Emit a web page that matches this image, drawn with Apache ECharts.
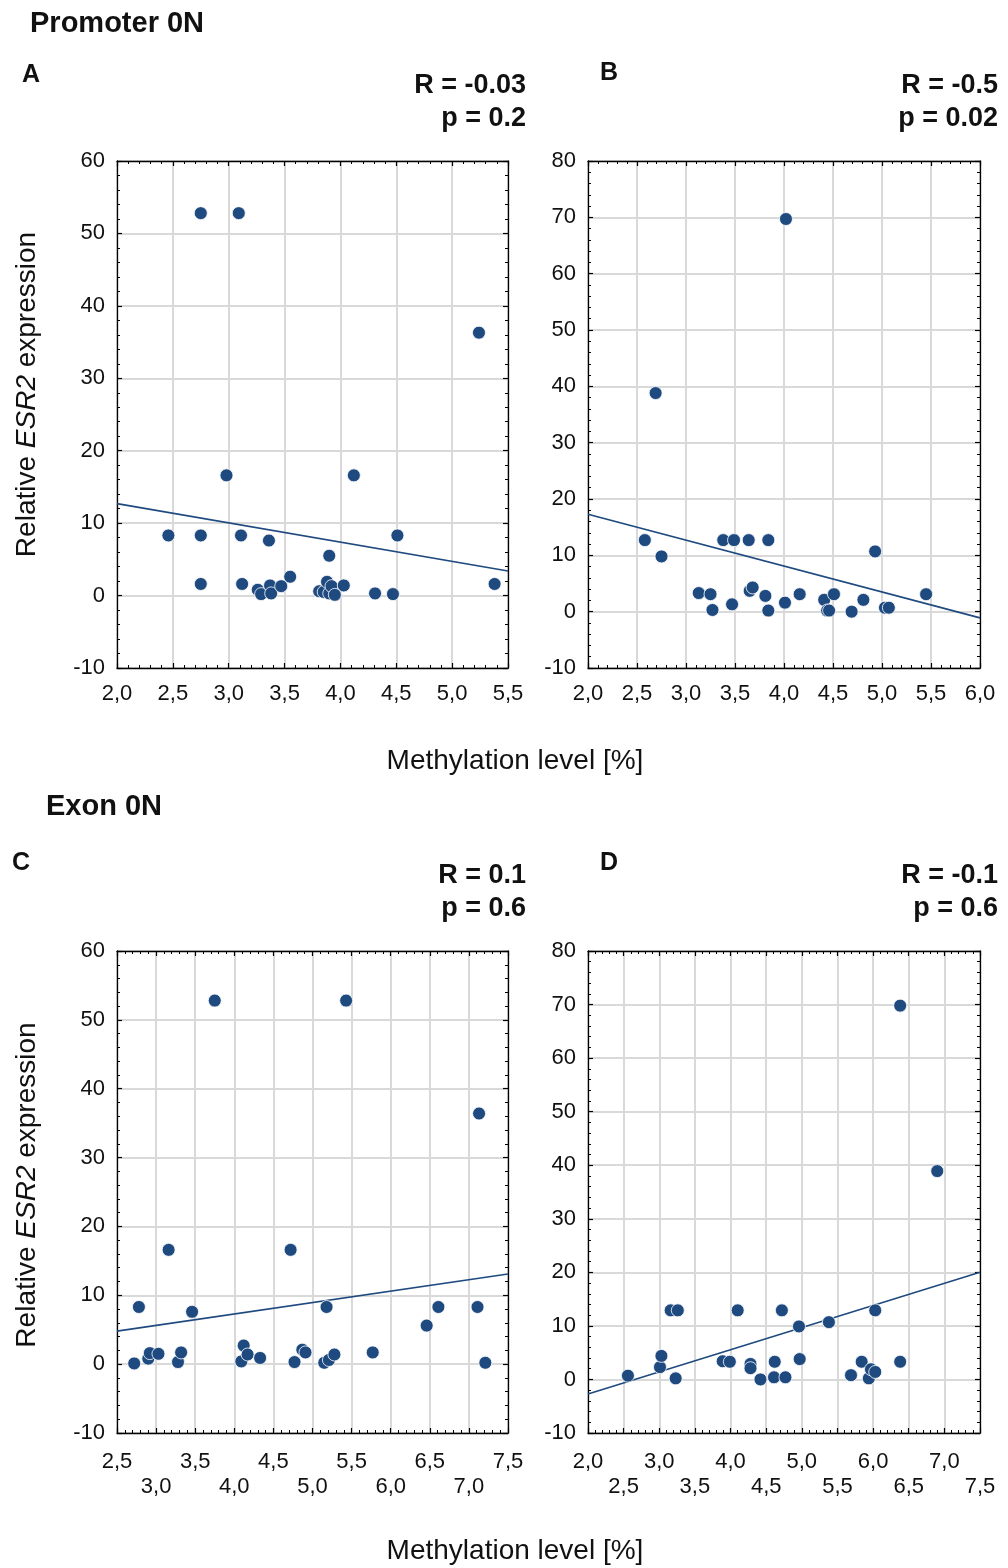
<!DOCTYPE html>
<html>
<head>
<meta charset="utf-8">
<script src="https://cdn.jsdelivr.net/npm/echarts@6/dist/echarts.min.js"></script>
<style>
  html, body { margin: 0; padding: 0; background: #fff; }
  #chart { width: 1008px; height: 1568px; }
</style>
</head>
<body>
<div id="chart"></div>
<script>
// ---------- DATA ----------
// Panel A: Promoter 0N, first set
const aX = [2.46, 2.75, 2.75, 2.75, 2.98, 3.09, 3.11, 3.12, 3.26, 3.29, 3.36, 3.37, 3.38, 3.47, 3.55, 3.81, 3.85, 3.88, 3.90, 3.90, 3.92, 3.95, 4.03, 4.12, 4.31, 4.47, 4.51, 5.24, 5.38];
const aY = [8.3, 52.8, 8.3, 1.6, 16.6, 52.8, 8.3, 1.6, 0.8, 0.2, 7.6, 1.4, 0.3, 1.3, 2.6, 0.6, 0.5, 1.9, 5.5, 0.3, 1.3, 0.1, 1.4, 16.6, 0.3, 0.2, 8.3, 36.3, 1.6];
// Panel B: Promoter 0N, second set
const bX = [2.58, 2.69, 2.75, 3.13, 3.25, 3.27, 3.38, 3.47, 3.49, 3.64, 3.65, 3.68, 3.81, 3.84, 3.84, 4.01, 4.02, 4.16, 4.41, 4.44, 4.46, 4.51, 4.69, 4.81, 4.93, 5.03, 5.07, 5.45];
const bY = [12.7, 38.8, 9.8, 3.3, 3.1, 0.3, 12.7, 1.3, 12.7, 12.7, 3.7, 4.3, 2.8, 12.7, 0.2, 1.6, 69.7, 3.1, 2.1, 0.2, 0.2, 3.1, 0.0, 2.1, 10.7, 0.7, 0.7, 3.1];
// Panel C: Exon 0N, first set
const cX = [2.72, 2.78, 2.90, 2.92, 3.03, 3.16, 3.28, 3.32, 3.46, 3.75, 4.09, 4.12, 4.17, 4.33, 4.72, 4.77, 4.87, 4.91, 5.15, 5.18, 5.21, 5.28, 5.43, 5.77, 6.46, 6.61, 7.11, 7.13, 7.21];
const cY = [0.1, 8.3, 0.8, 1.6, 1.5, 16.6, 0.3, 1.7, 7.6, 52.8, 0.4, 2.7, 1.4, 0.9, 16.6, 0.3, 2.1, 1.7, 0.2, 8.3, 0.6, 1.4, 52.8, 1.7, 5.6, 8.3, 8.3, 36.4, 0.2];
// Panel D: Exon 0N, second set
const dX = [2.56, 3.01, 3.03, 3.16, 3.23, 3.26, 3.89, 3.99, 4.10, 4.28, 4.28, 4.42, 4.61, 4.62, 4.72, 4.77, 4.96, 4.97, 5.38, 5.69, 5.84, 5.94, 5.97, 6.03, 6.03, 6.38, 6.38, 6.90];
const dY = [0.7, 2.3, 4.4, 12.9, 0.2, 12.9, 3.4, 3.3, 12.9, 2.9, 2.1, 0.0, 0.4, 3.3, 12.9, 0.4, 9.9, 3.8, 10.7, 0.8, 3.3, 0.2, 1.9, 1.4, 12.9, 3.3, 69.8, 38.9];

// Fitted lines (end points)
const aFit = [[2.0, 12.7], [5.5, 3.4]];
const bFit = [[2.0, 17.3], [6.0, -1.1]];
const cFit = [[2.5, 4.8], [7.5, 13.1]];
const dFit = [[2.0, -2.7], [7.5, 20.0]];

// Axis ranges and labels
const xRanges = [[2.0, 5.5], [2.0, 6.0], [2.5, 7.5], [2.0, 7.5]];
const yRanges = [[-10, 60], [-10, 80], [-10, 60], [-10, 80]];
const panelLetters = ['A', 'B', 'C', 'D'];
const rTexts = ['R = -0.03', 'R = -0.5', 'R = 0.1', 'R = -0.1'];
const pTexts = ['p = 0.2', 'p = 0.02', 'p = 0.6', 'p = 0.6'];
const sectionTitles = ['Promoter 0N', 'Exon 0N'];
const xTitle = 'Methylation level [%]';

// ---------- LAYOUT ----------
const FONT = 'Liberation Sans, Arial, sans-serif';
const grids = [
  { left: 117, top: 161, width: 391, height: 507 },
  { left: 588, top: 161, width: 392, height: 507 },
  { left: 117, top: 951, width: 391, height: 482 },
  { left: 588, top: 951, width: 392, height: 482 }
];
const twoRow = [false, false, true, true];
const namePad = [40, 0, 14, 0];
const dotColor = '#1f4a7f';

function zip(xs, ys) { return xs.map((x, i) => [x, ys[i]]); }
const pts = [zip(aX, aY), zip(bX, bY), zip(cX, cY), zip(dX, dY)];
const fits = [aFit, bFit, cFit, dFit];

const xAxes = [], yAxes = [], series = [];
const lineCommon = { show: true, onZero: false, lineStyle: { color: '#000', width: 1.3 } };
const tickCommon = { show: true, inside: true, length: 5, lineStyle: { color: '#000', width: 1.2 } };
const minorCommon = { show: true, splitNumber: 5, length: 3, lineStyle: { color: '#000', width: 1 } };

grids.forEach((g, i) => {
  const [xmin, xmax] = xRanges[i];
  const [ymin, ymax] = yRanges[i];
  xAxes.push({
    type: 'value', gridIndex: i, position: 'bottom', min: xmin, max: xmax, interval: 0.5,
    axisLine: lineCommon, axisTick: tickCommon, minorTick: minorCommon,
    splitLine: { show: true, lineStyle: { color: '#d9d9d9', width: 2 } },
    axisLabel: {
      show: true, margin: twoRow[i] ? 16 : 13, color: '#111', fontFamily: FONT, fontSize: 22, lineHeight: 25,
      formatter: function (v) {
        const s = v.toFixed(1).replace('.', ',');
        if (twoRow[i]) {
          const k = Math.round((v - xmin) / 0.5);
          return (k % 2 === 1) ? '\n' + s : s;
        }
        return s;
      }
    }
  });
  xAxes.push({
    type: 'value', gridIndex: i, position: 'top', min: xmin, max: xmax, interval: 0.5,
    axisLine: lineCommon, axisTick: tickCommon, minorTick: minorCommon,
    splitLine: { show: false }, axisLabel: { show: false }
  });
  const yPrimary = {
    type: 'value', gridIndex: i, position: 'left', min: ymin, max: ymax, interval: 10,
    axisLine: lineCommon, axisTick: tickCommon, minorTick: minorCommon,
    splitLine: { show: true, lineStyle: { color: '#d9d9d9', width: 2 } },
    axisLabel: { show: true, margin: 12, color: '#111', fontFamily: FONT, fontSize: 22 }
  };
  if (i % 2 === 0) {
    yPrimary.name = '{a|Relative }{b|ESR2}{a| expression}';
    yPrimary.nameLocation = 'middle';
    yPrimary.nameRotate = 90;
    yPrimary.nameGap = 76;
    yPrimary.nameTextStyle = {
      padding: [0, 0, 0, namePad[i]],
      rich: {
        a: { fontFamily: FONT, fontSize: 28, color: '#111' },
        b: { fontFamily: FONT, fontSize: 28, color: '#111', fontStyle: 'italic' }
      }
    };
  }
  yAxes.push(yPrimary);
  yAxes.push({
    type: 'value', gridIndex: i, position: 'right', min: ymin, max: ymax, interval: 10,
    axisLine: lineCommon, axisTick: tickCommon, minorTick: minorCommon,
    splitLine: { show: false }, axisLabel: { show: false }
  });
  series.push({
    type: 'line', xAxisIndex: 2 * i, yAxisIndex: 2 * i, data: fits[i],
    symbol: 'none', silent: true, z: 3,
    lineStyle: { color: '#1f4a7f', width: 1.6 }
  });
  series.push({
    type: 'scatter', xAxisIndex: 2 * i, yAxisIndex: 2 * i, data: pts[i],
    symbolSize: 13, z: 4,
    itemStyle: { color: dotColor, borderColor: '#ffffff', borderWidth: 0.8, opacity: 1 }
  });
});

const titles = [];
function T(text, left, top, size, bold, align) {
  titles.push({
    text: text, left: left, top: top, padding: 0, textAlign: align || 'left',
    textStyle: { fontFamily: FONT, fontSize: size, fontWeight: bold ? 'bold' : 'normal', color: '#111' }
  });
}
T(sectionTitles[0], 30, 9, 29, true);
T(sectionTitles[1], 46, 792, 29, true);
T(panelLetters[0], 22, 63, 25, true);
T(panelLetters[1], 600, 61, 25, true);
T(panelLetters[2], 12, 851, 25, true);
T(panelLetters[3], 600, 851, 25, true);
T(rTexts[0], 526, 72, 27, true, 'right');
T(pTexts[0], 526, 105, 27, true, 'right');
T(rTexts[1], 998, 72, 27, true, 'right');
T(pTexts[1], 998, 105, 27, true, 'right');
T(rTexts[2], 526, 862, 27, true, 'right');
T(pTexts[2], 526, 895, 27, true, 'right');
T(rTexts[3], 998, 862, 27, true, 'right');
T(pTexts[3], 998, 895, 27, true, 'right');
T(xTitle, 515, 747, 28, false, 'center');
T(xTitle, 515, 1537, 28, false, 'center');

const chart = echarts.init(document.getElementById('chart'), null, { renderer: 'canvas' });
chart.setOption({
  animation: false,
  backgroundColor: '#ffffff',
  title: titles,
  grid: grids.map(g => Object.assign({ containLabel: false }, g)),
  xAxis: xAxes,
  yAxis: yAxes,
  series: series
});
</script>
</body>
</html>
